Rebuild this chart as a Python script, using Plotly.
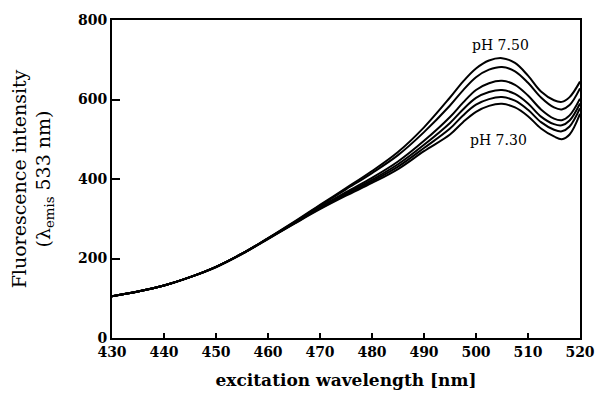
import plotly.graph_objects as go

wavelength = [430, 435, 440, 445, 450, 455, 460, 465, 470, 475, 480, 485, 490, 495,
              497.5, 500, 502.5, 505, 507.5, 510, 512.5, 515, 516.5, 518, 520]

ph_750 = [105, 117, 132, 153, 179, 212, 251, 292, 335, 377, 420, 468, 530, 605, 645, 678, 698, 704, 692, 660, 620, 598, 594, 606, 645]
ph_b = [105, 117, 132, 153, 179, 212, 251, 291, 333, 374, 415, 460, 518, 585, 623, 656, 675, 682, 671, 642, 605, 580, 575, 586, 628]
ph_c = [105, 117, 132, 153, 179, 212, 250, 289, 329, 367, 403, 444, 496, 556, 592, 624, 641, 647, 637, 610, 575, 552, 548, 560, 602]
ph_d = [105, 117, 132, 153, 179, 212, 250, 289, 328, 364, 398, 437, 486, 541, 575, 604, 619, 624, 614, 590, 557, 538, 535, 547, 590]
ph_e = [105, 117, 132, 153, 179, 212, 250, 288, 326, 361, 394, 431, 478, 527, 560, 587, 601, 606, 597, 574, 543, 524, 520, 532, 578]
ph_730 = [105, 117, 132, 153, 178, 211, 249, 287, 324, 358, 390, 425, 470, 512, 543, 569, 584, 589, 580, 558, 527, 507, 500, 512, 564]

series = [ph_750, ph_b, ph_c, ph_d, ph_e, ph_730]

x_ticks = [430, 440, 450, 460, 470, 480, 490, 500, 510, 520]
y_ticks = [0, 200, 400, 600, 800]

FONT = "DejaVu Serif"

fig = go.Figure()
for s in series:
    fig.add_trace(go.Scatter(x=wavelength, y=s, mode="lines",
                             line=dict(color="black", width=2, shape="spline", smoothing=1.0),
                             showlegend=False, hoverinfo="skip"))

fig.add_annotation(x=498.8, y=737, text="pH 7.50", showarrow=False,
                   xanchor="left", yanchor="middle", font=dict(family=FONT, size=14, color="black"))
fig.add_annotation(x=498.4, y=498, text="pH 7.30", showarrow=False,
                   xanchor="left", yanchor="middle", font=dict(family=FONT, size=14, color="black"))

fig.update_layout(
    width=596, height=393,
    margin=dict(l=112, r=16, t=20, b=55),
    paper_bgcolor="white", plot_bgcolor="white",
    font=dict(family=FONT, color="black"),
    xaxis=dict(range=[430, 520], tickvals=x_ticks, ticks="inside", ticklen=5, tickwidth=1.5,
               tickcolor="black", showline=True, linecolor="black", linewidth=2, mirror=True,
               showgrid=False, zeroline=False, automargin=False,
               tickfont=dict(family=FONT, size=14, color="black", weight="bold"),
               title=dict(text="<b>excitation wavelength [nm]</b>", font=dict(family=FONT, size=17, color="black"),
                          standoff=15)),
    yaxis=dict(range=[0, 800], tickvals=y_ticks, ticks="inside", ticklen=8, tickwidth=1.5,
               tickcolor="black", showline=True, linecolor="black", linewidth=2, mirror=True,
               showgrid=False, zeroline=False, automargin=False,
               tickfont=dict(family=FONT, size=14, color="black", weight="bold"),
               title=dict(text="Fluorescence intensity<br>(λ<sub>emis</sub> 533 nm)",
                          font=dict(family=FONT, size=19, color="black"), standoff=22)),
)

fig.write_html("out.html", config={"displayModeBar": False},
               post_script="document.body.style.margin='0';document.body.style.overflow='hidden';")
